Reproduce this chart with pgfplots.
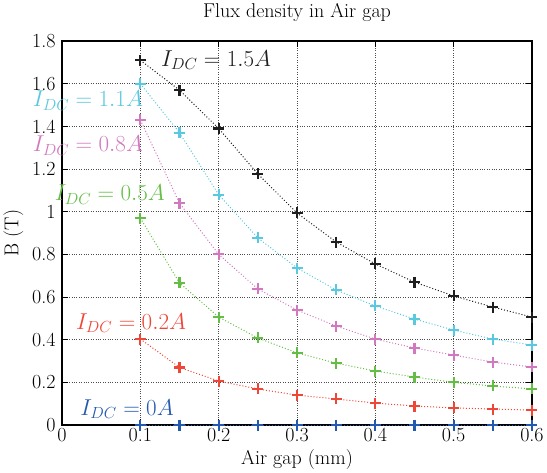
\documentclass[border=0pt]{standalone}
\usepackage{fix-cm}
\usepackage{fontspec}
\usepackage{pgfplots}
\pgfplotsset{compat=1.18}
\definecolor{cblack}{RGB}{30,30,30}
\definecolor{ccyan}{RGB}{90,200,222}
\definecolor{cmag}{RGB}{210,120,190}
\definecolor{cgreen}{RGB}{100,190,70}
\definecolor{cred}{RGB}{238,70,55}
\definecolor{cblue}{RGB}{35,90,175}
\pgfplotsset{myplots/.style={every axis plot/.append style={line width=1pt, dotted, mark=+, mark size=5.5pt, mark options={solid, line width=2.2pt}}}}
\begin{document}
\begin{tikzpicture}
\begin{axis}[
  scale only axis,
  width=470pt, height=384pt,
  xmin=0, xmax=0.6, ymin=0, ymax=1.8,
  xtick={0,0.1,...,0.6}, ytick={0,0.2,...,1.8},
  xticklabels={0,0.1,0.2,0.3,0.4,0.5,0.6},
  yticklabels={0,0.2,0.4,0.6,0.8,1,1.2,1.4,1.6,1.8},
  grid=major,
  major grid style={black!70, dotted, line width=0.8pt},
  tick align=inside,
  major tick length=6pt,
  tick style={black, line width=1pt},
  axis line style={black, line width=1.6pt},
  tick label style={font=\fontsize{20}{22}\selectfont},
  yticklabel style={xshift=-3pt},
  label style={font=\fontsize{20}{22}\selectfont},
  ylabel style={yshift=2pt},
  title style={font=\fontsize{20}{22}\selectfont, yshift=10pt},
  title={Flux density in Air gap},
  xlabel={Air gap (mm)},
  ylabel={B (T)},
  myplots,
  clip=false,
]
\addplot[cblack] coordinates {(0.1,1.71)(0.15,1.57)(0.2,1.39)(0.25,1.177)(0.3,0.994)(0.35,0.858)(0.4,0.755)(0.45,0.67)(0.5,0.605)(0.55,0.553)(0.6,0.506)};
\addplot[ccyan] coordinates {(0.1,1.60)(0.15,1.37)(0.2,1.08)(0.25,0.877)(0.3,0.736)(0.35,0.633)(0.4,0.558)(0.45,0.497)(0.5,0.445)(0.55,0.403)(0.6,0.375)};
\addplot[cmag] coordinates {(0.1,1.43)(0.15,1.04)(0.2,0.80)(0.25,0.638)(0.3,0.539)(0.35,0.464)(0.4,0.403)(0.45,0.361)(0.5,0.328)(0.55,0.295)(0.6,0.272)};
\addplot[cgreen] coordinates {(0.1,0.97)(0.15,0.666)(0.2,0.506)(0.25,0.408)(0.3,0.338)(0.35,0.29)(0.4,0.253)(0.45,0.225)(0.5,0.20)(0.55,0.183)(0.6,0.169)};
\addplot[cred] coordinates {(0.1,0.403)(0.15,0.27)(0.2,0.206)(0.25,0.169)(0.3,0.14)(0.35,0.122)(0.4,0.103)(0.45,0.089)(0.5,0.08)(0.55,0.075)(0.6,0.07)};
\node[cblack, anchor=west, font=\fontsize{23}{25}\selectfont] at (axis cs:0.122,1.71) {$I_{DC}=1.5A$};
\node[ccyan, font=\fontsize{23}{25}\selectfont] at (axis cs:0.033,1.52) {$I_{DC}=1.1A$};
\node[cmag, font=\fontsize{23}{25}\selectfont] at (axis cs:0.033,1.31) {$I_{DC}=0.8A$};
\node[cgreen, font=\fontsize{23}{25}\selectfont] at (axis cs:0.061,1.08) {$I_{DC}=0.5A$};
\node[cred, font=\fontsize{23}{25}\selectfont] at (axis cs:0.088,0.478) {$I_{DC}=0.2A$};
\node[cblue, font=\fontsize{23}{25}\selectfont] at (axis cs:0.083,0.075) {$I_{DC}=0A$};
\end{axis}
\begin{axis}[
  scale only axis,
  width=470pt, height=384pt,
  xmin=0, xmax=0.6, ymin=0, ymax=1.8,
  hide axis,
  myplots,
  clip=false,
]
\addplot[cblue] coordinates {(0.1,0)(0.15,0)(0.2,0)(0.25,0)(0.3,0)(0.35,0)(0.4,0)(0.45,0)(0.5,0)(0.55,0)(0.6,0)};
\end{axis}
\end{tikzpicture}
\end{document}
